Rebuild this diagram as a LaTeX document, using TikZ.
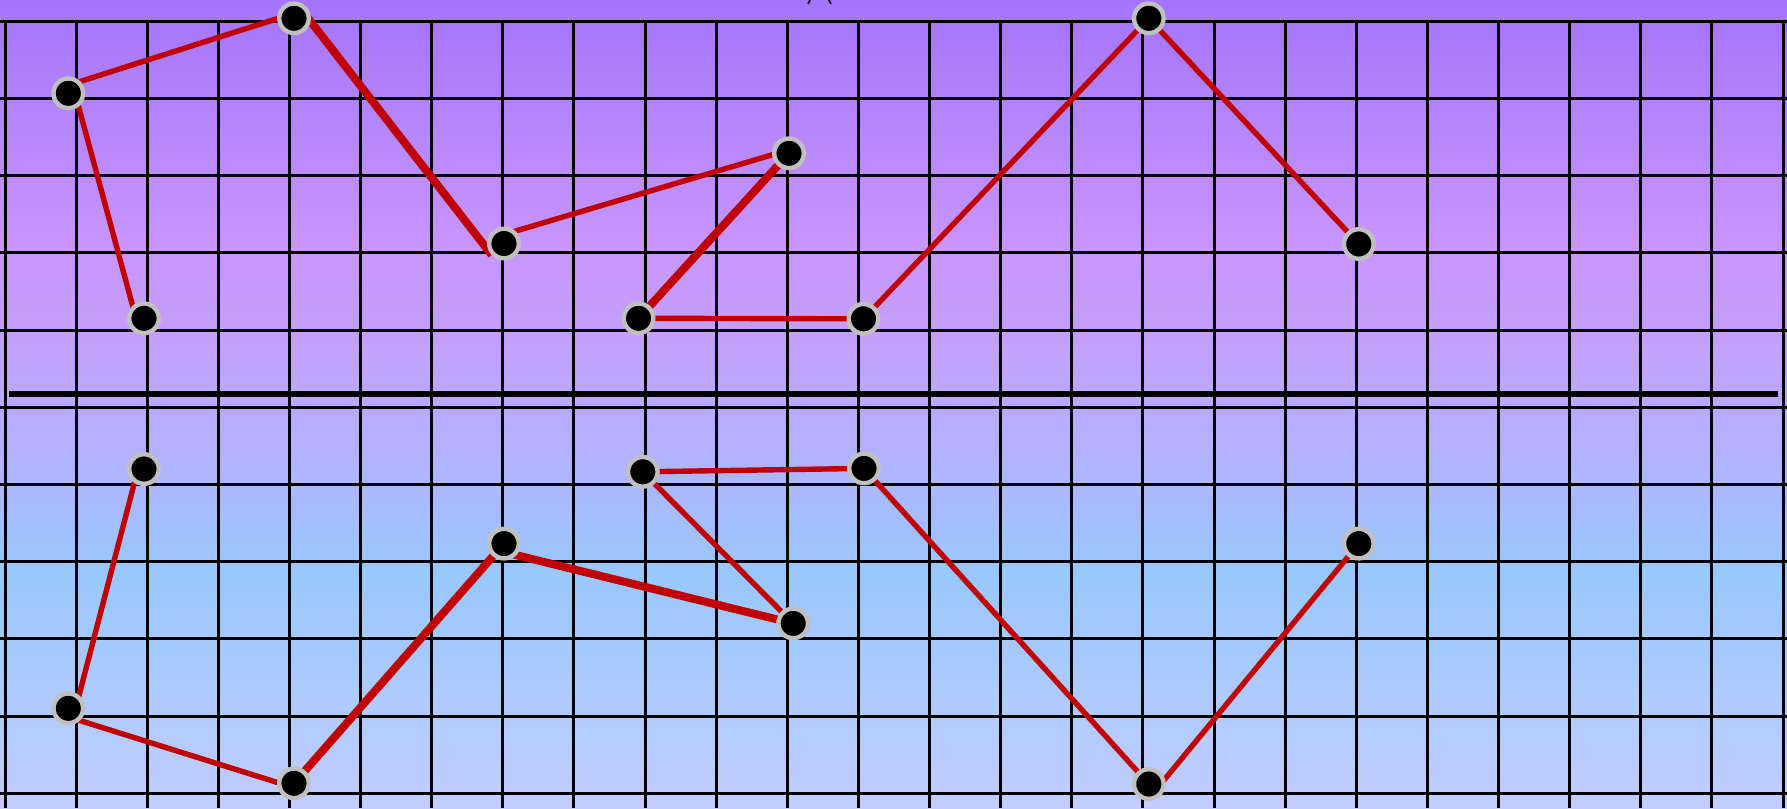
\documentclass[tikz,border=0pt]{standalone}
\definecolor{cb0}{RGB}{194,204,255}
\definecolor{cb1}{RGB}{152,200,252}
\definecolor{cb2}{RGB}{176,180,255}
\definecolor{cb3}{RGB}{188,168,255}
\definecolor{cb4}{RGB}{196,158,252}
\definecolor{cb5}{RGB}{200,150,252}
\definecolor{cb6}{RGB}{178,130,252}
\definecolor{cb7}{RGB}{164,116,252}
\definecolor{edgered}{RGB}{192,0,0}
\definecolor{ringgray}{RGB}{192,192,192}
\pgfdeclareverticalshading{bgshade}{100bp}{color(0bp)=(cb0); color(25bp)=(cb0); color(39.5bp)=(cb1); color(46bp)=(cb2); color(50.25bp)=(cb3); color(54.5bp)=(cb4); color(59.5bp)=(cb5); color(68.8bp)=(cb6); color(75bp)=(cb7); color(100bp)=(cb7)}
\pgfdeclarelayer{bg}
\pgfdeclarelayer{mid}
\pgfsetlayers{bg,mid,main}
\tikzset{
  gridline/.style={black, line width=1.5pt},
  edge/.style={edgered, line width=2.7pt},
  thickedge/.style={edgered, line width=4pt},
  dot/.style={circle, fill=black, draw=ringgray, line width=2.2pt, minimum size=14.8pt, inner sep=0pt},
  divider/.style={black, line width=3pt},
  tick/.style={black, line width=0.8pt}
}
\begin{document}
\begin{tikzpicture}[x=0.5pt,y=-0.5pt]
\useasboundingbox (0,0) rectangle (1787,808);
\begin{pgfonlayer}{bg}
\shade[shading=bgshade] (0,0) rectangle (1787,808);
\foreach \i in {0,...,25} \draw[gridline] ({5+\i*71.12},21.3) -- ({5+\i*71.12},808);
\foreach \j in {0,...,10} \draw[gridline] (0,{21.3+\j*77.2}) -- (1787,{21.3+\j*77.2});
\draw[divider] (9,394) -- (1778,394);
\draw[tick] (811,-2) -- (808,4);
\draw[tick] (828,-2) -- (831,4);
\end{pgfonlayer}
% top nodes
\node[dot] (a1) at (68.3,93.3) {};
\node[dot] (a2) at (294,18.3) {};
\node[dot] (a3) at (144,318.3) {};
\node[dot] (a4) at (504,243.5) {};
\node[dot] (a5) at (789,153.3) {};
\node[dot] (a6) at (638.5,318.3) {};
\node[dot] (a7) at (863.5,318.8) {};
\node[dot] (a8) at (1148.8,18.3) {};
\node[dot] (a9) at (1358.8,244) {};
% bottom nodes
\node[dot] (b1) at (144,469) {};
\node[dot] (b2) at (68.3,708.3) {};
\node[dot] (b3) at (294,783.3) {};
\node[dot] (b4) at (504,543.6) {};
\node[dot] (b5) at (793.2,623.4) {};
\node[dot] (b6) at (642.8,471.8) {};
\node[dot] (b7) at (864,468.4) {};
\node[dot] (b8) at (1148.8,784) {};
\node[dot] (b9) at (1358.8,543.6) {};
\begin{pgfonlayer}{mid}
\draw[edge] ([shift={(-8,0)}]a3.center) -- ([shift={(6.7,0)}]a1.center);
\draw[edge] ([shift={(0,-8)}]a1.center) -- ([shift={(0,-5)}]a2.center);
\draw[thickedge] ([shift={(8,-8)}]a2.center) -- ([shift={(-12.3,11.5)}]a4.center);
\draw[edge] ([shift={(0,-9)}]a4.center) -- ([shift={(0,-3.5)}]a5.center);
\draw[thickedge] (a5.center) -- (a6.center);
\draw[edge] (a6.center) -- (a7.center);
\draw[edge] (a7.center) -- (a8.center);
\draw[edge] (a8.center) -- (a9.center);
\draw[edge] ([shift={(-6,0)}]b1.center) -- ([shift={(7.4,0)}]b2.center);
\draw[edge] ([shift={(0,8.6)}]b2.center) -- ([shift={(0,4.4)}]b3.center);
\draw[thickedge] (b3.center) -- (b4.center);
\draw[thickedge] ([shift={(0,8.5)}]b4.center) -- (b5.center);
\draw[edge] (b5.center) -- (b6.center);
\draw[edge] (b6.center) -- (b7.center);
\draw[edge] (b7.center) -- (b8.center);
\draw[edge] ([shift={(12,0)}]b8.center) -- (b9.center);
\end{pgfonlayer}
\end{tikzpicture}
\end{document}
